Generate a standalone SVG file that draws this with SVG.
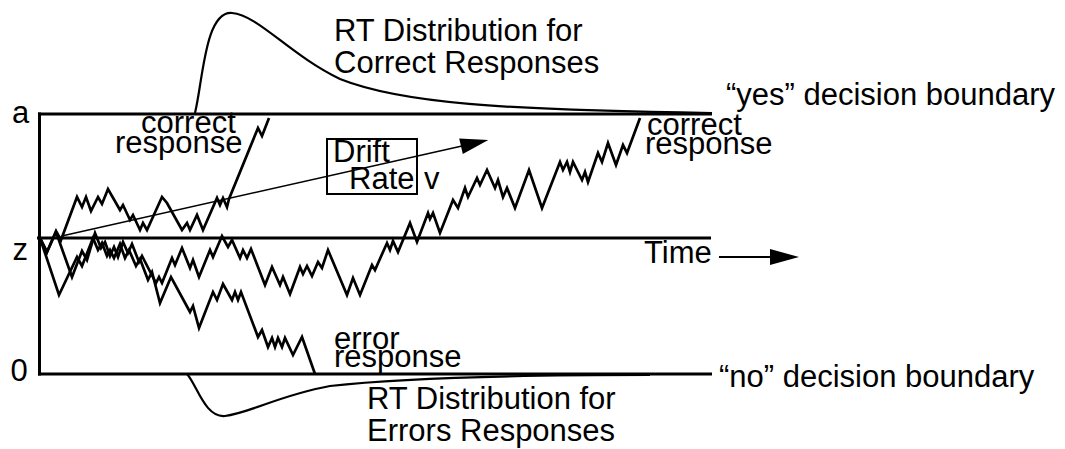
<svg xmlns="http://www.w3.org/2000/svg" width="1065" height="449" viewBox="0 0 1065 449">
<style>
text{font-family:"Liberation Sans",Arial,sans-serif;font-size:31px;fill:#000}
.frame{stroke:#000;stroke-width:3;fill:none}
.walk{stroke:#000;stroke-width:2.7;fill:none;stroke-linejoin:miter;stroke-miterlimit:10}
.dist{stroke:#000;stroke-width:2.2;fill:none}
.thin{stroke:#000;stroke-width:1.5;fill:none}
</style>
<rect width="1065" height="449" fill="#fff"/>
<g id="axes">
<line class="frame" x1="39.5" y1="112.5" x2="39.5" y2="375.5"/>
<line class="frame" x1="38" y1="114" x2="712" y2="114"/>
<line class="frame" x1="37" y1="238" x2="711" y2="238"/>
<line class="frame" x1="38" y1="374" x2="712" y2="374"/>
<text x="12" y="123">a</text>
<text x="12.5" y="260">z</text>
<text x="10.5" y="381">0</text>
</g>
<g id="dist-correct">
<path class="dist" d="M195,113 C203,80 205,11 232,13 C258,15 290,55 340,79 C400,103 500,110 712,113"/>
<text x="334" y="41">RT Distribution for</text>
<text x="334" y="73">Correct Responses</text>
</g>
<g id="dist-error">
<path class="dist" d="M187,374 C197,385 205,418 225,416 C250,413 280,395 330,386 C400,378 500,375 650,375"/>
<text x="367" y="409">RT Distribution for</text>
<text x="367" y="441">Errors Responses</text>
</g>
<g id="yes-boundary"><text x="726" y="105">“yes” decision boundary</text></g>
<g id="no-boundary"><text x="719" y="387">“no” decision boundary</text></g>
<g id="connectors">
<polyline class="walk" id="walk-a" points="40,238 47,252 56,231 61,240 77,197 82,207 86,197 91,211 98,197 102,204 108,189 120,210 123,205 130,220 133,215 140,230 143,223 147,230 162,197 167,203 182,230 187,223 190,230 197,215 203,230 217,198 220,205 223,198 227,207 229,199 258,128 262,136 269,118"/>
<polyline class="walk" id="walk-b" points="40,238 47,252 56,232 72,277 82,251 87,260 95,233 101,248 105,242 110,256 114,247 118,257 123,242 128,253 132,244 139,262 142,256 156,283 159,277 162,283 172,258 175,265 182,248 190,268 193,260 199,277 210,250 213,257 222,236 228,247 232,240 240,258 243,250 247,258 251,249 265,285 272,267 280,285 283,277 290,294 300,267 303,274 307,266 312,276 318,262 322,268 328,250 347,295 353,278 360,295 372,265 375,270 387,243 390,250 393,241 398,252 410,223 417,242 428,213 430,219 433,213 440,233 453,200 458,208 465,188 468,197 477,178 480,185 487,170 495,188 498,180 503,197 507,188 515,208 529,170 542,208 560,162 563,170 567,162 570,172 573,162 582,180 585,172 588,182 598,153 602,162 608,143 616,165 623,145 627,153 640,118"/>
<polyline class="walk" id="walk-c" points="40,238 59,295 77,257 82,266 93,238 98,250 102,243 107,256 110,250 114,258 120,244 125,258 129,250 136,266 140,259 148,280 152,272 160,303 171,277 190,312 193,306 199,328 213,292 217,300 223,284 232,300 235,292 238,300 241,292 258,337 262,330 268,347 272,338 275,347 278,338 282,347 285,338 293,355 302,337 315,374"/>
<line class="thin" x1="61.7" y1="236" x2="462" y2="146"/>
<polygon points="488.3,140 462.8,154 459.2,138.4" fill="#000"/>
<line x1="719" y1="257" x2="772" y2="257" stroke="#000" stroke-width="2"/>
<polygon points="770,249 799,257 770,265" fill="#000"/>
</g>
<g id="drift-rate">
<rect x="327" y="139" width="90" height="55" fill="none" stroke="#000" stroke-width="2"/>
<text x="333" y="162">Drift</text>
<text x="349" y="189">Rate</text>
<text x="424" y="189">v</text>
</g>
<g id="label-correct-left">
<text x="141" y="133">correct</text>
<text x="115" y="153">response</text>
</g>
<g id="label-correct-right">
<text x="647" y="135">correct</text>
<text x="645" y="154">response</text>
</g>
<g id="label-error">
<text x="334" y="349">error</text>
<text x="334" y="367">response</text>
</g>
<g id="label-time"><text x="644" y="263">Time</text></g>
</svg>
